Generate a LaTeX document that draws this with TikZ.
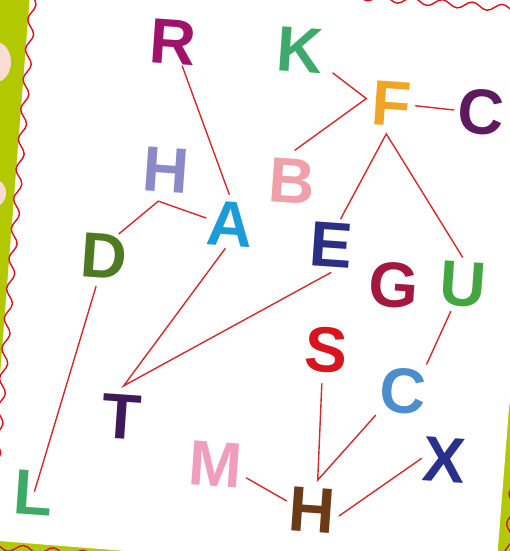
\documentclass[tikz,border=0pt]{standalone}
\usepackage{fontspec}
\setmainfont{Liberation Sans}
\usetikzlibrary{decorations.pathmorphing}
\definecolor{bggreen}{HTML}{B2C800}
\definecolor{blush}{HTML}{FADDD2}
\definecolor{edgered}{HTML}{D9101E}
\definecolor{linkred}{HTML}{D32A2E}
\definecolor{colR}{HTML}{A0136A}
\definecolor{colK}{HTML}{3FA96B}
\definecolor{colF}{HTML}{F0A526}
\definecolor{colCa}{HTML}{5E1A5E}
\definecolor{colHa}{HTML}{8C8AC6}
\definecolor{colB}{HTML}{EFA0A8}
\definecolor{colA}{HTML}{1B9CD8}
\definecolor{colD}{HTML}{4F7A22}
\definecolor{colE}{HTML}{2A2F85}
\definecolor{colG}{HTML}{A4173F}
\definecolor{colU}{HTML}{43A640}
\definecolor{colS}{HTML}{D8141E}
\definecolor{colCb}{HTML}{4B8ECB}
\definecolor{colT}{HTML}{40195A}
\definecolor{colM}{HTML}{EF9EBE}
\definecolor{colX}{HTML}{283089}
\definecolor{colHb}{HTML}{6B3A16}
\definecolor{colL}{HTML}{3DAA68}
\tikzset{
  letter/.style={font=\fontsize{64}{64}\selectfont\bfseries, inner sep=1pt, rotate=-4},
  link/.style={draw=linkred, line width=1.4pt, line cap=round},
  wavy/.style={draw=edgered, line width=1.4pt, decorate,
    decoration={snake, amplitude=3.5pt, segment length=30pt}}
}
\begin{document}
\begin{tikzpicture}[x=1pt, y=-1pt]
\useasboundingbox (0,0) rectangle (510,551);
\clip (0,0) rectangle (510,551);
\fill[bggreen] (0,0) rectangle (510,551);
\fill[blush] (-4,62) ellipse (15pt and 20pt);
\fill[blush] (-6,193) ellipse (12pt and 14pt);
\fill[blush] (502,-2) ellipse (16pt and 16pt);
\fill[blush] (516,372) ellipse (12pt and 40pt);
\begin{scope}[shift={(264,271)}, rotate=-4.5]
  \fill[white] (-255,-290) rectangle (255,290);
  \draw[wavy] (-251.75,-286.85) rectangle (251.75,286.85);
\end{scope}

\node[letter, text=colR] (R) at (173,42) {R};
\node[letter, text=colK] (K) at (300,50) {K};
\node[letter, text=colF] (F) at (392,104) {F};
\node[letter, text=colCa] (C1) at (481,112) {C};
\node[letter, text=colHa] (H1) at (166,170) {H};
\node[letter, text=colB] (B) at (292,181) {B};
\node[letter, text=colA] (A) at (230,224) {A};
\node[letter, text=colD] (D) at (104,256) {D};
\node[letter, text=colE] (E) at (331,245) {E};
\node[letter, text=colG] (G) at (394,285) {G};
\node[letter, text=colU] (U) at (463,284) {U};
\node[letter, text=colS] (S) at (326,350) {S};
\node[letter, text=colCb] (C2) at (403,391) {C};
\node[letter, text=colT] (T) at (122,417) {T};
\node[letter, text=colM] (M) at (216,464) {M};
\node[letter, text=colX] (X) at (444,460) {X};
\node[letter, text=colHb] (H2) at (312,510) {H};
\node[letter, text=colL] (L) at (34,493) {L};

\draw[link, shorten >=7pt] (R.-65) -- (A.north);
\draw[link] (D.60) -- ([xshift=-6pt, yshift=-8pt]H1.south) -- (A.170);
\draw[link, shorten <=12pt, shorten >=12pt] (K.-30) -- ([xshift=-5pt, yshift=4pt]F.west) -- (B.110);
\draw[link, shorten <=3pt, shorten >=3pt] (F.east) -- (C1.west);
\draw[link, shorten <=4pt, shorten >=4pt] (E.75) -- ([yshift=-7pt]F.-100) -- (U.north);
\draw[link, shorten <=5pt, shorten >=5pt] (U.-110) -- (C2.50);
\draw[link, shorten <=2pt, shorten >=8pt] (A.-95) -- ([yshift=8pt]T.north) -- (E.-70);
\draw[link, shorten <=10pt, shorten >=3pt] (S.-95) -- ([yshift=7pt]H2.80) -- (C2.-135);
\draw[link, shorten <=4pt, shorten >=2pt] (M.-20) -- (H2.165);
\draw[link, shorten >=4pt] (X.west) -- (H2.-15);
\draw[link, shorten <=8pt, shorten >=2pt] (D.-100) -- (L.center);
\end{tikzpicture}
\end{document}
